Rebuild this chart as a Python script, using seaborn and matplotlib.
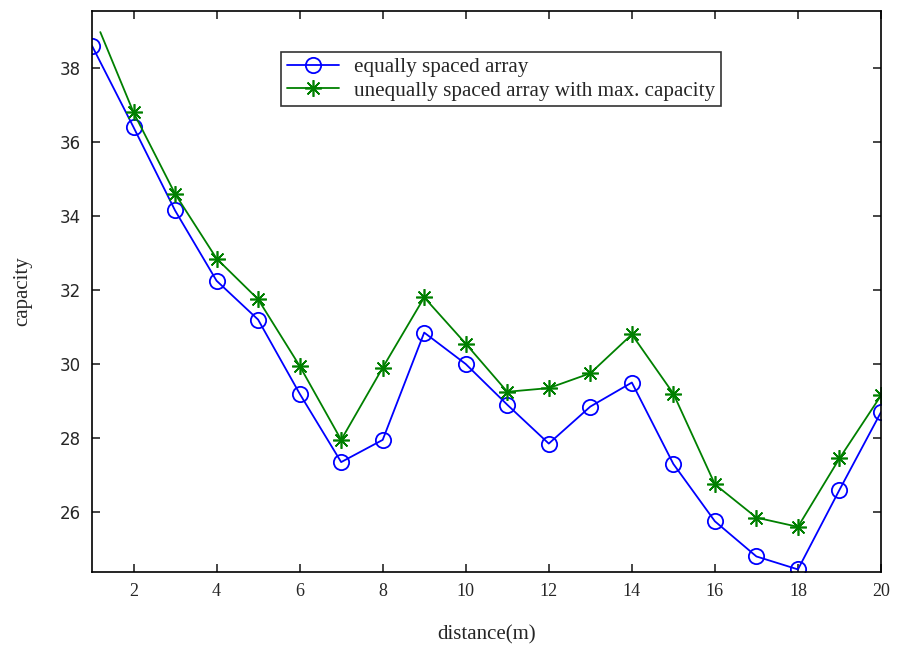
import matplotlib
matplotlib.use("Agg")
import matplotlib.pyplot as plt
import seaborn as sns
import pandas as pd

distance = list(range(1, 21))
equal_cap = [38.6, 36.4, 34.15, 32.25, 31.2, 29.2, 27.35, 27.95, 30.85, 30.0,
             28.9, 27.85, 28.85, 29.5, 27.3, 25.75, 24.8, 24.45, 26.6, 28.7]
unequal_x = [1.2] + list(range(2, 21))
unequal_cap = [38.97, 36.8, 34.6, 32.85, 31.75, 29.95, 27.95, 29.9, 31.8, 30.55,
               29.25, 29.35, 29.75, 30.8, 29.2, 26.75, 25.85, 25.6, 27.45, 29.15]
xticks = [2, 4, 6, 8, 10, 12, 14, 16, 18, 20]
yticks = [26, 28, 30, 32, 34, 36, 38]

sns.set_style("ticks")
plt.rcParams['font.family'] = ['Liberation Serif', 'DejaVu Serif']

fig = plt.figure(figsize=(8.97, 6.51), dpi=100)
ax = fig.add_axes([92/897, 1-572/651, 789/897, 561/651])

df1 = pd.DataFrame({"x": distance, "y": equal_cap})
df2 = pd.DataFrame({"x": unequal_x, "y": unequal_cap})

sns.lineplot(data=df1, x="x", y="y", ax=ax, sort=False, color="#0000ff",
             marker="o", markersize=11, markerfacecolor="none",
             markeredgecolor="#0000ff", markeredgewidth=1.3, linewidth=1.3,
             label="equally spaced array")
sns.lineplot(data=df2, x="x", y="y", ax=ax, sort=False, color="#008000",
             marker=(8, 2, 0), markersize=12, markeredgecolor="#008000",
             markeredgewidth=1.2, linewidth=1.3, markevery=list(range(1, 20)),
             label="unequally spaced array with max. capacity")

ax.set_xlim(1, 20)
ax.set_ylim(24.38, 39.54)
ax.set_xticks(xticks)
ax.set_yticks(yticks)
ax.tick_params(direction="in", top=True, right=True, length=6, width=1.2,
               labelsize=13, pad=8)
for lab in ax.get_yticklabels():
    lab.set_family(["DejaVu Sans"])
    lab.set_fontsize(12)
for s in ax.spines.values():
    s.set_visible(True)
    s.set_linewidth(1.2)
    s.set_color("black")

ax.set_xlabel("distance(m)", fontsize=15, labelpad=18)
ax.set_ylabel("capacity", fontsize=15, labelpad=20)

leg = ax.legend(loc="upper left", bbox_to_anchor=(0.24, 0.927), fontsize=15.2,
                frameon=True, fancybox=False, edgecolor="black",
                borderpad=0.25, labelspacing=0.18, handlelength=2.5,
                handletextpad=0.7, borderaxespad=0)
leg.get_frame().set_linewidth(1.2)

fig.savefig("out.png", dpi=100)
